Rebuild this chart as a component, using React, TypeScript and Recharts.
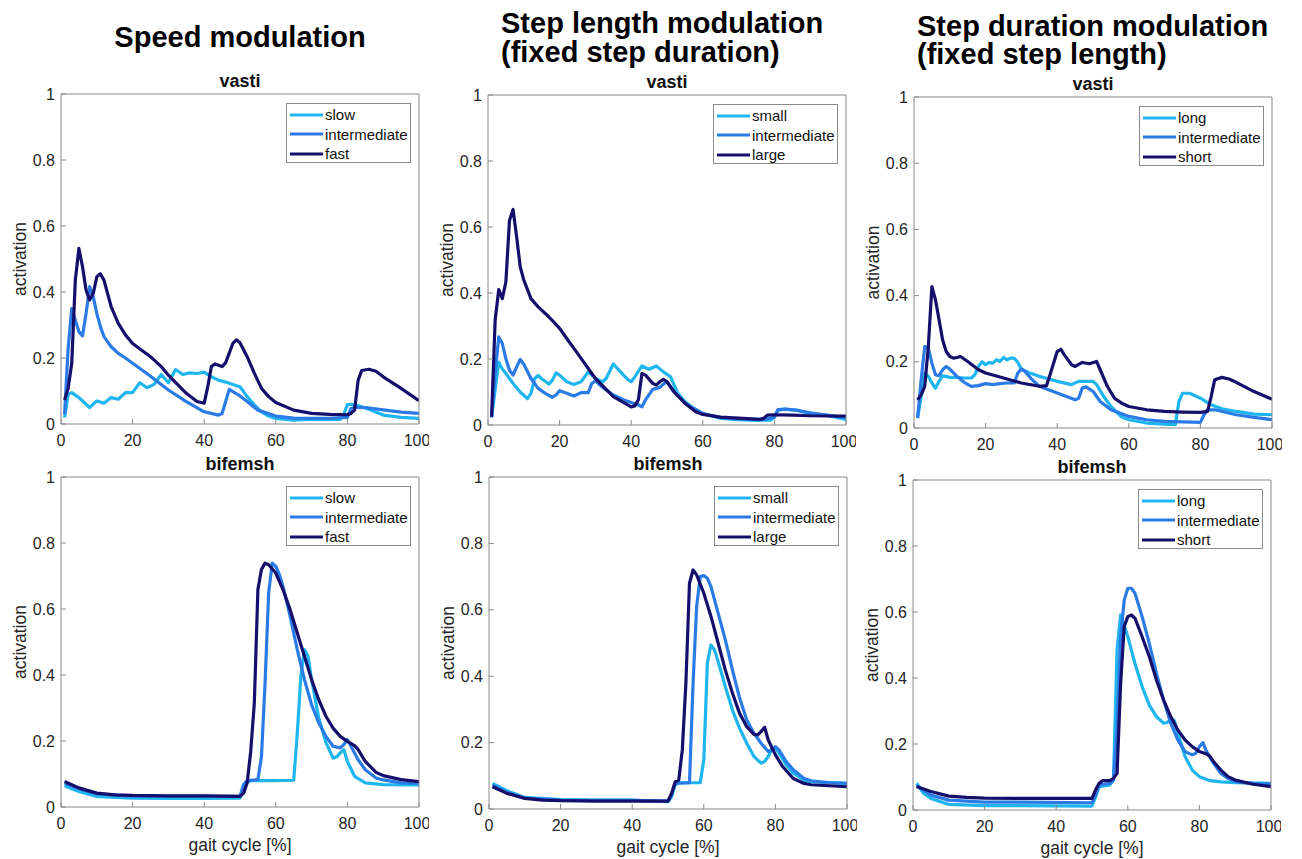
import React from 'react';
import { LineChart, Line, XAxis, YAxis, Legend } from 'recharts';

type Pt = [number, number];

// ---------- data ----------
const xTicks = [0, 20, 40, 60, 80, 100];
const yTicks = [0, 0.2, 0.4, 0.6, 0.8, 1];

const speedNames = ['slow', 'intermediate', 'fast'];
const lengthNames = ['small', 'intermediate', 'large'];
const durationNames = ['long', 'intermediate', 'short'];

const speedVastiSlow: Pt[] = [[1,0.02],[2,0.09],[3,0.095],[5,0.08],[8,0.05],[10,0.07],[12,0.063],[14,0.08],[16,0.075],[18,0.095],[20,0.095],[22,0.125],[24,0.11],[26,0.12],[28,0.15],[30,0.125],[32,0.165],[34,0.15],[36,0.155],[38,0.153],[40,0.157],[42,0.143],[44,0.133],[46,0.127],[48,0.12],[50,0.113],[52,0.083],[54,0.058],[56,0.037],[58,0.024],[60,0.017],[65,0.012],[70,0.015],[78,0.014],[79,0.03],[80,0.058],[81,0.06],[83,0.055],[86,0.045],[90,0.027],[95,0.02],[100,0.017]];
const speedVastiInter: Pt[] = [[1,0.03],[2,0.23],[3,0.35],[4,0.315],[5,0.28],[6,0.267],[7,0.335],[8,0.416],[9,0.386],[10,0.335],[11,0.295],[12,0.265],[14,0.234],[16,0.214],[18,0.2],[20,0.184],[24,0.153],[30,0.103],[35,0.068],[40,0.037],[44,0.027],[45,0.032],[47,0.105],[50,0.085],[52,0.068],[55,0.042],[60,0.024],[65,0.018],[70,0.017],[75,0.017],[80,0.02],[81,0.047],[82,0.05],[85,0.05],[90,0.043],[95,0.036],[100,0.032]];
const speedVastiFast: Pt[] = [[1,0.073],[2,0.108],[3,0.184],[4,0.436],[5,0.532],[6,0.477],[7,0.406],[8,0.376],[9,0.396],[10,0.446],[11,0.455],[12,0.436],[14,0.356],[16,0.305],[18,0.27],[20,0.244],[25,0.204],[28,0.174],[30,0.148],[35,0.093],[38,0.068],[40,0.063],[41,0.113],[42,0.174],[43,0.182],[45,0.174],[46,0.186],[48,0.244],[49,0.255],[50,0.246],[52,0.204],[54,0.154],[56,0.108],[58,0.083],[60,0.065],[65,0.042],[70,0.032],[75,0.029],[80,0.028],[81,0.032],[82,0.042],[83,0.133],[84,0.162],[86,0.166],[88,0.16],[90,0.143],[95,0.108],[100,0.071]];

const lengthVastiSmall: Pt[] = [[1,0.023],[3,0.19],[4,0.17],[5,0.156],[7,0.126],[9,0.1],[11,0.08],[12,0.096],[13,0.14],[14,0.15],[15,0.14],[17,0.124],[18,0.136],[19,0.158],[20,0.151],[22,0.131],[24,0.123],[26,0.131],[28,0.161],[30,0.141],[32,0.131],[33,0.141],[35,0.185],[37,0.161],[39,0.138],[40,0.131],[41,0.146],[43,0.179],[45,0.169],[47,0.179],[49,0.161],[51,0.146],[53,0.096],[55,0.071],[58,0.045],[60,0.035],[65,0.02],[70,0.016],[75,0.014],[79,0.015],[80,0.025],[81,0.045],[83,0.048],[86,0.045],[90,0.035],[95,0.028],[100,0.017]];
const lengthVastiInter: Pt[] = [[1,0.023],[2,0.156],[3,0.267],[4,0.247],[5,0.2],[6,0.166],[7,0.151],[8,0.176],[9,0.199],[10,0.184],[12,0.141],[14,0.111],[16,0.096],[18,0.084],[19,0.091],[20,0.104],[22,0.096],[24,0.088],[26,0.098],[28,0.098],[29,0.126],[30,0.134],[32,0.114],[35,0.091],[38,0.076],[40,0.068],[42,0.061],[43,0.055],[44,0.076],[46,0.108],[48,0.114],[49,0.124],[50,0.131],[52,0.1],[55,0.066],[60,0.035],[65,0.022],[70,0.018],[77,0.017],[80,0.023],[81,0.047],[83,0.048],[86,0.045],[90,0.037],[100,0.022]];
const lengthVastiLarge: Pt[] = [[1,0.025],[2,0.318],[3,0.41],[4,0.383],[5,0.434],[6,0.62],[7,0.653],[8,0.57],[9,0.479],[10,0.439],[12,0.383],[14,0.358],[16,0.338],[18,0.316],[20,0.293],[22,0.262],[25,0.217],[30,0.141],[35,0.086],[40,0.055],[41,0.058],[42,0.076],[43,0.156],[44,0.151],[46,0.126],[47,0.121],[48,0.131],[49,0.138],[50,0.131],[52,0.1],[55,0.066],[58,0.04],[60,0.032],[65,0.024],[70,0.021],[76,0.017],[77,0.02],[78,0.03],[80,0.031],[85,0.03],[90,0.028],[100,0.027]];

const durVastiLong: Pt[] = [[1,0.03],[2,0.095],[3,0.166],[4,0.156],[5,0.136],[6,0.12],[7,0.141],[8,0.158],[10,0.153],[12,0.153],[14,0.151],[16,0.151],[17,0.161],[18,0.186],[19,0.2],[20,0.191],[21,0.198],[22,0.196],[23,0.206],[24,0.201],[25,0.213],[26,0.206],[27,0.211],[28,0.211],[29,0.198],[30,0.178],[32,0.168],[35,0.156],[40,0.141],[44,0.131],[46,0.141],[48,0.141],[50,0.141],[51,0.131],[53,0.095],[55,0.065],[58,0.033],[60,0.025],[65,0.015],[70,0.012],[73,0.01],[74,0.08],[75,0.105],[77,0.105],[80,0.09],[83,0.07],[86,0.058],[90,0.05],[95,0.042],[100,0.04]];
const durVastiInter: Pt[] = [[1,0.03],[2,0.146],[3,0.246],[4,0.241],[5,0.196],[6,0.161],[7,0.158],[8,0.176],[9,0.186],[10,0.178],[12,0.156],[14,0.138],[16,0.126],[18,0.128],[20,0.134],[22,0.131],[24,0.134],[26,0.136],[28,0.136],[29,0.166],[30,0.178],[31,0.171],[33,0.146],[35,0.126],[40,0.106],[45,0.085],[46,0.09],[47,0.121],[48,0.124],[50,0.111],[52,0.08],[55,0.055],[60,0.035],[65,0.025],[70,0.02],[80,0.017],[81,0.04],[82,0.055],[84,0.055],[90,0.04],[95,0.032],[100,0.025]];
const durVastiShort: Pt[] = [[1,0.085],[2,0.1],[3,0.126],[4,0.246],[5,0.427],[6,0.387],[7,0.327],[8,0.266],[9,0.231],[10,0.216],[11,0.211],[12,0.213],[13,0.216],[15,0.201],[18,0.176],[20,0.166],[25,0.151],[30,0.136],[35,0.126],[37,0.128],[38,0.161],[40,0.231],[41,0.238],[42,0.221],[44,0.191],[45,0.186],[47,0.198],[49,0.194],[51,0.201],[52,0.176],[54,0.126],[56,0.09],[58,0.075],[60,0.065],[65,0.055],[70,0.05],[75,0.048],[80,0.047],[82,0.05],[83,0.095],[84,0.146],[86,0.153],[88,0.148],[90,0.138],[95,0.11],[100,0.087]];

const speedBifSlow: Pt[] = [[1,0.065],[3,0.055],[5,0.047],[10,0.032],[15,0.029],[20,0.027],[30,0.026],[40,0.026],[50,0.027],[51,0.063],[52,0.075],[53,0.08],[60,0.08],[65,0.081],[66,0.224],[67,0.396],[68,0.477],[69,0.457],[70,0.386],[72,0.27],[74,0.196],[76,0.148],[77,0.152],[78,0.164],[79,0.174],[80,0.138],[82,0.093],[85,0.073],[90,0.068],[100,0.067]];
const speedBifInter: Pt[] = [[1,0.073],[5,0.055],[10,0.04],[20,0.033],[30,0.032],[40,0.032],[50,0.032],[51,0.068],[52,0.08],[55,0.083],[56,0.153],[57,0.375],[58,0.648],[59,0.739],[60,0.729],[61,0.704],[62,0.669],[64,0.578],[66,0.477],[68,0.386],[70,0.31],[72,0.255],[74,0.214],[76,0.184],[78,0.179],[79,0.189],[80,0.204],[81,0.184],[83,0.143],[85,0.113],[88,0.088],[90,0.082],[95,0.073],[100,0.072]];
const speedBifFast: Pt[] = [[1,0.077],[5,0.058],[10,0.042],[15,0.037],[20,0.035],[30,0.034],[40,0.034],[50,0.032],[51,0.042],[52,0.073],[53,0.169],[54,0.315],[55,0.659],[56,0.72],[57,0.739],[58,0.734],[60,0.709],[62,0.659],[64,0.598],[66,0.527],[68,0.457],[70,0.386],[72,0.325],[74,0.275],[76,0.239],[78,0.214],[80,0.199],[82,0.186],[83,0.174],[85,0.138],[88,0.105],[90,0.095],[95,0.083],[100,0.077]];

const lengthBifSmall: Pt[] = [[1,0.077],[5,0.055],[10,0.035],[20,0.028],[30,0.027],[40,0.027],[50,0.022],[51,0.037],[52,0.072],[53,0.079],[59,0.079],[60,0.148],[61,0.44],[62,0.494],[63,0.479],[64,0.444],[66,0.369],[68,0.298],[70,0.243],[72,0.198],[74,0.158],[76,0.138],[77,0.143],[78,0.158],[79,0.18],[80,0.183],[81,0.168],[83,0.133],[85,0.108],[88,0.087],[90,0.082],[100,0.077]];
const lengthBifInter: Pt[] = [[1,0.072],[5,0.05],[10,0.033],[20,0.027],[30,0.026],[40,0.026],[50,0.024],[51,0.042],[52,0.077],[56,0.079],[57,0.379],[58,0.61],[59,0.7],[60,0.703],[61,0.695],[62,0.67],[64,0.59],[66,0.51],[68,0.419],[70,0.334],[72,0.268],[74,0.228],[76,0.198],[78,0.173],[79,0.178],[80,0.188],[81,0.178],[83,0.143],[85,0.118],[88,0.092],[90,0.085],[95,0.079],[100,0.077]];
const lengthBifLarge: Pt[] = [[1,0.067],[5,0.047],[10,0.032],[15,0.027],[20,0.025],[30,0.024],[40,0.024],[50,0.024],[51,0.047],[52,0.082],[53,0.087],[54,0.178],[55,0.379],[56,0.68],[57,0.72],[58,0.705],[60,0.65],[62,0.58],[64,0.5],[66,0.419],[68,0.349],[70,0.288],[72,0.248],[74,0.225],[75,0.223],[76,0.233],[77,0.246],[78,0.208],[80,0.163],[82,0.128],[85,0.092],[88,0.077],[90,0.073],[100,0.067]];

const durBifLong: Pt[] = [[1,0.081],[3,0.05],[5,0.035],[10,0.017],[20,0.013],[30,0.013],[50,0.012],[51,0.04],[52,0.071],[55,0.076],[56,0.091],[57,0.485],[58,0.591],[59,0.56],[60,0.525],[62,0.444],[64,0.374],[66,0.318],[68,0.283],[70,0.263],[71,0.265],[72,0.275],[73,0.271],[74,0.232],[76,0.162],[78,0.121],[80,0.101],[83,0.089],[86,0.085],[90,0.083],[100,0.081]];
const durBifInter: Pt[] = [[1,0.073],[5,0.045],[10,0.03],[20,0.024],[30,0.024],[50,0.022],[51,0.045],[52,0.076],[55,0.081],[56,0.091],[57,0.253],[58,0.525],[59,0.636],[60,0.672],[61,0.672],[62,0.657],[64,0.586],[66,0.505],[68,0.414],[70,0.333],[72,0.263],[74,0.212],[76,0.177],[78,0.167],[79,0.172],[80,0.192],[81,0.204],[82,0.177],[84,0.141],[86,0.111],[88,0.096],[90,0.086],[95,0.08],[100,0.079]];
const durBifShort: Pt[] = [[1,0.071],[5,0.056],[10,0.042],[15,0.038],[20,0.036],[30,0.035],[50,0.035],[51,0.061],[52,0.081],[53,0.089],[55,0.089],[56,0.096],[57,0.111],[58,0.384],[59,0.556],[60,0.586],[61,0.591],[62,0.581],[64,0.525],[66,0.465],[68,0.394],[70,0.333],[72,0.283],[74,0.242],[76,0.212],[78,0.192],[80,0.177],[82,0.17],[83,0.162],[84,0.146],[86,0.121],[88,0.101],[90,0.091],[95,0.078],[100,0.071]];

// ---------- styling ----------
const COLORS = ['#1fb5ef', '#2b7be6', '#150f6b'];
const FONT = '"Liberation Sans", Arial, Helvetica, sans-serif';
const AXIS = '#8a8a8a';
const TXT = '#262626';
const YW = 82;   // y-axis area width
const MT = 10;   // top margin
const MR = 10;   // right margin
const XH = 50;   // x-axis area height

type Spec = { left: number; top: number; w: number; h: number };

const toRows = (pts: Pt[]) => pts.map(([x, y]) => ({ x, y }));

const LegendBox = (props: any) => {
  const order: string[] = props.order || [];
  const payload = [...(props.payload || [])].sort((a: any, b: any) => order.indexOf(a.value) - order.indexOf(b.value));
  return (
    <div style={{ border: `1px solid ${AXIS}`, background: '#fff', width: 123, height: 57, boxSizing: 'content-box', paddingTop: 1, fontFamily: FONT, fontSize: 15, color: '#111' }}>
      {payload.map((p: any) => (
        <div key={p.value} style={{ display: 'flex', alignItems: 'center', height: 19.5 }}>
          <svg width={38} height={8} style={{ display: 'block' }}>
            <line x1={3} x2={36} y1={4} y2={4} stroke={p.color} strokeWidth={3} />
          </svg>
          <span style={{ lineHeight: '19px', whiteSpace: 'nowrap' }}>{p.value}</span>
        </div>
      ))}
    </div>
  );
};

const Panel = ({ spec, series, names, xlabel }: { spec: Spec; series: Pt[][]; names: string[]; xlabel: boolean }) => {
  const width = YW + spec.w + MR;
  const height = MT + spec.h + XH;
  return (
    <div style={{ position: 'absolute', left: spec.left - YW, top: spec.top - MT }}>
      <LineChart width={width} height={height} margin={{ top: MT, right: MR, left: 0, bottom: 0 }}>
        <XAxis
          xAxisId="b" dataKey="x" type="number" domain={[0, 100]} ticks={xTicks} allowDataOverflow
          orientation="bottom" height={XH} tickSize={-5} tickMargin={16}
          stroke={AXIS} tick={{ fill: TXT, fontSize: 16, fontFamily: FONT }}
          label={xlabel ? { value: 'gait cycle [%]', position: 'insideBottom', offset: XH - 44, fill: TXT, fontSize: 17.5, fontFamily: FONT } : undefined}
        />
        <XAxis xAxisId="t" type="number" domain={[0, 100]} ticks={xTicks} orientation="top" mirror tick={false} tickSize={5} stroke={AXIS} />
        <YAxis
          yAxisId="l" type="number" domain={[0, 1]} ticks={yTicks} width={YW} tickSize={-5} tickMargin={11}
          stroke={AXIS} tick={{ fill: TXT, fontSize: 16, fontFamily: FONT }} tickFormatter={(v: number) => String(v)}
          label={{ value: 'activation', angle: -90, position: 'center', fill: TXT, fontSize: 17.5, fontFamily: FONT }}
        />
        <YAxis yAxisId="r" type="number" domain={[0, 1]} ticks={yTicks} orientation="right" mirror tick={false} tickSize={5} stroke={AXIS} />
        <Legend
          layout="vertical" align="center" verticalAlign="middle" content={<LegendBox order={names} />}
          wrapperStyle={{ position: 'absolute', left: YW + spec.w - 8 - 125, top: MT + 9, width: 125, height: 59 }}
        />
        {series.map((s, i) => (
          <Line
            key={names[i]} xAxisId="b" yAxisId="l" data={toRows(s)} dataKey="y" name={names[i]}
            type="linear" stroke={COLORS[i]} strokeWidth={3.2} dot={false} activeDot={false}
            strokeLinejoin="round" isAnimationActive={false}
          />
        ))}
      </LineChart>
    </div>
  );
};

const specs: Spec[] = [
  { left: 61, top: 94, w: 358, h: 330 },
  { left: 488, top: 95, w: 358, h: 330 },
  { left: 914, top: 97, w: 358, h: 331 },
  { left: 61, top: 477, w: 358, h: 330 },
  { left: 489, top: 477, w: 358, h: 332 },
  { left: 913, top: 480, w: 358, h: 330 },
];

export default function App() {
  const sub = (s: Spec, t: string) => (
    <text x={s.left + s.w / 2} y={s.top - 7.5} textAnchor="middle" fontWeight="bold" fontSize={18} fontFamily={FONT} fill="#111">{t}</text>
  );
  return (
    <div style={{ position: 'absolute', left: 0, top: 0, width: 1302, height: 859, background: '#fff', overflow: 'hidden' }}>
      <svg width={1302} height={859} style={{ position: 'absolute', left: 0, top: 0 }}>
        <g fontFamily={FONT} fontWeight="bold" fontSize={29} fill="#000">
          <text x={240} y={47} textAnchor="middle">Speed modulation</text>
          <text x={501} y={33}>Step length modulation</text>
          <text x={501} y={62}>(fixed step duration)</text>
          <text x={917} y={36}>Step duration modulation</text>
          <text x={917} y={64}>(fixed step length)</text>
        </g>
        {sub(specs[0], 'vasti')}
        {sub(specs[1], 'vasti')}
        {sub(specs[2], 'vasti')}
        {sub(specs[3], 'bifemsh')}
        {sub(specs[4], 'bifemsh')}
        {sub(specs[5], 'bifemsh')}
      </svg>
      <Panel spec={specs[0]} series={[speedVastiSlow, speedVastiInter, speedVastiFast]} names={speedNames} xlabel={false} />
      <Panel spec={specs[1]} series={[lengthVastiSmall, lengthVastiInter, lengthVastiLarge]} names={lengthNames} xlabel={false} />
      <Panel spec={specs[2]} series={[durVastiLong, durVastiInter, durVastiShort]} names={durationNames} xlabel={false} />
      <Panel spec={specs[3]} series={[speedBifSlow, speedBifInter, speedBifFast]} names={speedNames} xlabel={true} />
      <Panel spec={specs[4]} series={[lengthBifSmall, lengthBifInter, lengthBifLarge]} names={lengthNames} xlabel={true} />
      <Panel spec={specs[5]} series={[durBifLong, durBifInter, durBifShort]} names={durationNames} xlabel={true} />
    </div>
  );
}
